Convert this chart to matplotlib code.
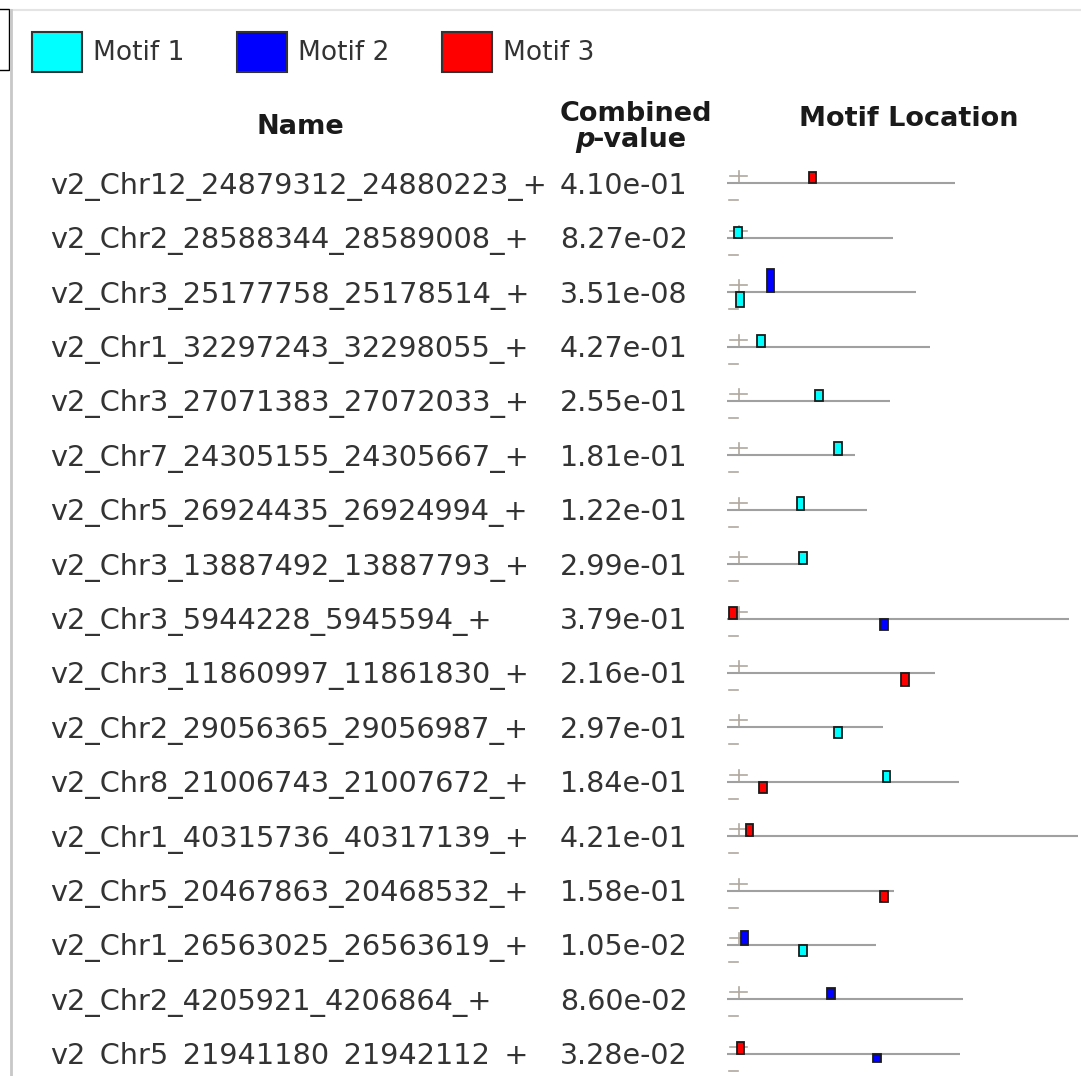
import matplotlib.pyplot as plt
from matplotlib.patches import Rectangle
from matplotlib.transforms import Bbox, TransformedBbox

plt.rcParams['font.family'] = 'DejaVu Sans'

# --- data ---
motif_names = ["Motif 1", "Motif 2", "Motif 3"]
motif_colors = ["#00FFFF", "#0000FF", "#FF0000"]
motif_width = [30, 30, 30]  # bp

names = ["v2_Chr12_24879312_24880223_+", "v2_Chr2_28588344_28589008_+",
         "v2_Chr3_25177758_25178514_+", "v2_Chr1_32297243_32298055_+",
         "v2_Chr3_27071383_27072033_+", "v2_Chr7_24305155_24305667_+",
         "v2_Chr5_26924435_26924994_+", "v2_Chr3_13887492_13887793_+",
         "v2_Chr3_5944228_5945594_+", "v2_Chr3_11860997_11861830_+",
         "v2_Chr2_29056365_29056987_+", "v2_Chr8_21006743_21007672_+",
         "v2_Chr1_40315736_40317139_+", "v2_Chr5_20467863_20468532_+",
         "v2_Chr1_26563025_26563619_+", "v2_Chr2_4205921_4206864_+",
         "v2_Chr5_21941180_21942112_+"]
pvalues = [4.10e-01, 8.27e-02, 3.51e-08, 4.27e-01, 2.55e-01, 1.81e-01,
           1.22e-01, 2.99e-01, 3.79e-01, 2.16e-01, 2.97e-01, 1.84e-01,
           4.21e-01, 1.58e-01, 1.05e-02, 8.60e-02, 3.28e-02]
lengths = [911, 664, 756, 812, 650, 512, 559, 301, 1366, 833, 622, 929,
           1403, 669, 594, 943, 932]

# motif sites: sequence index, motif (1-3), start (bp), strand, score
site_row = [0, 1, 2, 2, 3, 4, 5, 6, 7, 8, 8, 9, 10, 11, 11, 12, 13, 14, 14, 15, 16, 16]
site_motif = [3, 1, 2, 1, 1, 1, 1, 1, 1, 3, 2, 3, 1, 1, 3, 3, 3, 2, 1, 2, 3, 2]
site_start = [327, 28, 159, 36, 120, 352, 428, 279, 288, 8, 612, 696, 428, 623,
              128, 75, 612, 55, 288, 400, 39, 584]
site_strand = ['+', '+', '+', '-', '+', '+', '+', '+', '+', '+', '-', '-', '-', '+',
               '-', '+', '-', '+', '-', '+', '+', '-']
site_score = [4.8, 4.8, 10.2, 6.4, 5.1, 4.8, 5.6, 5.6, 5.1, 4.8, 5.2, 5.6, 4.8, 4.8,
              4.8, 5.1, 5.1, 5.9, 4.9, 5.1, 4.9, 3.7]

# --- layout (pixels) ---
W, H = 1081, 1076
row0, row_step = 183.3, 54.4
x_loc = 727          # start of the sequence lines
px_per_bp = 0.25
score_px = 2.3
txt_col = "#333333"
hdr_col = "#1a1a1a"

fig = plt.figure(figsize=(W / 100, H / 100), dpi=100)
ax = fig.add_axes([0, 0, 1, 1])
ax.set_xlim(0, W)
ax.set_ylim(H, 0)
ax.axis("off")

axm = fig.add_axes([x_loc / W, 0, (W - x_loc) / W, 1])
axm.set_xlim(0, (W - x_loc) / px_per_bp)
axm.set_ylim(H, 0)
axm.axis("off")

# panel frame
ax.plot([11, W], [10, 10], color="#e4e4e4", lw=1.5)
ax.plot([11, 11], [10, H], color="#c8c8c8", lw=2)
ax.add_patch(Rectangle((-2, 9), 11, 61, facecolor="white", edgecolor="black", lw=1))

# legend
leg_x = [32, 237, 442]
for i in range(3):
    ax.add_patch(Rectangle((leg_x[i], 32), 50, 40, facecolor=motif_colors[i],
                           edgecolor="#333333", lw=1.5))
    ax.text(leg_x[i] + 61, 60, motif_names[i], fontsize=19, color=txt_col, va="baseline")

# headers
hdr = dict(fontsize=19.5, fontweight="bold", va="baseline", color=hdr_col)
ax.text(300, 134, "Name", ha="center", **hdr)
ax.text(636, 121, "Combined", ha="center", **hdr)
ax.text(575, 147, "p", ha="left", style="italic", **hdr)
ax.text(593, 147, "-value", ha="left", **hdr)
ax.text(909, 126, "Motif Location", ha="center", **hdr)

# visible area of the list ends just above the bottom edge
clip = TransformedBbox(Bbox.from_extents(0, 0, W, 1065), ax.transData)

# rows
for i in range(len(names)):
    y = row0 + row_step * i
    t1 = ax.text(50, y + 10.5, names[i], fontsize=20.7, color=txt_col, va="baseline")
    t2 = ax.text(560, y + 10.5, "%.2e" % pvalues[i], fontsize=20.5, color=txt_col, va="baseline")
    t1.set_clip_box(clip)
    t1.set_clip_on(True)
    t2.set_clip_box(clip)
    t2.set_clip_on(True)
    axm.plot([0, lengths[i]], [y, y], color="#a0a0a0", lw=1.5, solid_capstyle="butt", zorder=1)
    # strand marks
    ax.plot([730, 747], [y - 7, y - 7], color="#b0a8a0", lw=1.2, zorder=2)
    ax.plot([738.7, 738.7], [y - 12, y], color="#b0a8a0", lw=1.2, zorder=2)
    ax.plot([729, 738], [y + 17, y + 17], color="#b0a8a0", lw=1.2, zorder=2)

for k in range(len(site_row)):
    y = row0 + row_step * site_row[k]
    h = site_score[k] * score_px
    m = site_motif[k] - 1
    y0 = y - h if site_strand[k] == '+' else y
    axm.add_patch(Rectangle((site_start[k], y0), motif_width[m], h,
                            facecolor=motif_colors[m], edgecolor="#1a1a1a",
                            lw=1.3, zorder=3))

fig.savefig("out.png", dpi=100)
